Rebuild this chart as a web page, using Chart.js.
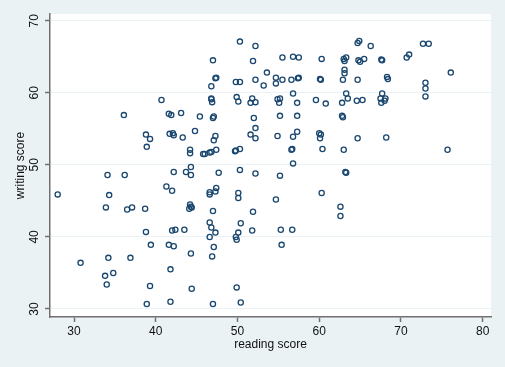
<!DOCTYPE html>
<html><head><meta charset="utf-8">
<script src="https://cdn.jsdelivr.net/npm/chart.js@4.4.0/dist/chart.umd.min.js"></script>
<style>html,body{margin:0;padding:0;background:#eaf2f3;} canvas{display:block}</style>
</head><body>
<canvas id="c" width="505" height="367"></canvas>
<script>
const readingScore = [
40.7,36.1,41.6,41.9,43.1,45.4,38.8,39.3,38.9,41.7,
42.1,42.2,43.3,44.8,44.2,44.2,45.8,44.3,43.7,44.3,
42.2,34.1,36.2,28.0,34.3,41.3,42.0,33.9,36.5,37.1,
38.7,44.2,44.3,44.1,44.4,38.8,42.0,42.4,43.5,39.4,
41.6,42.2,44.3,30.8,34.2,36.9,33.8,34.8,34.0,39.3,
44.4,41.8,38.9,41.8,47.0,51.9,62.6,46.6,46.8,47.3,
46.6,50.4,50.1,49.8,49.9,51.8,55.3,56.7,55.4,47.1,
46.9,49.9,47.0,50.4,47.0,47.1,52.0,55.2,57.3,62.8,
62.9,47.3,47.1,52.2,51.6,52.2,54.9,56.8,57.3,60.0,
60.2,60.1,64.7,46.0,46.6,46.8,47.4,49.7,49.8,50.3,
56.6,56.7,60.4,63.0,56.8,47.7,50.3,52.2,55.2,63.3,
63.2,47.4,46.6,47.3,46.6,50.1,50.1,54.7,60.3,62.6,
68.2,75.7,50.3,52.2,47.0,51.9,55.5,56.8,57.5,60.3,
63.0,63.3,63.1,64.8,64.9,64.7,53.6,47.3,47.4,46.8,
49.8,50.3,52.2,53.2,54.7,54.7,55.5,56.6,57.4,57.5,
60.2,60.1,62.9,63.1,63.1,64.7,46.8,46.9,46.8,49.9,
50.1,51.6,51.8,52.2,54.9,55.2,55.1,56.8,57.3,59.6,
60.8,62.8,63.3,63.5,64.6,66.3,72.7,73.4,65.5,65.0,
67.7,67.6,70.7,71.0,68.3,68.4,76.1,73.0,73.0,73.0,
65.3,67.7,67.5,68.1,67.6,68.0];
const writingScore = [
59.0,56.9,57.1,56.9,57.2,56.7,54.2,53.6,52.5,54.3,
54.4,54.1,53.8,54.7,52.1,51.6,51.5,49.7,49.0,48.6,
49.0,48.6,48.6,45.9,45.8,47.0,46.4,44.1,43.8,44.1,
43.9,44.5,44.2,43.9,44.1,40.7,40.9,41.0,41.0,38.9,
38.9,38.7,37.7,36.4,37.1,37.1,34.6,35.0,33.4,33.2,
32.8,35.5,30.7,31.0,43.6,43.5,42.9,42.0,41.3,40.6,
40.0,41.9,40.6,40.0,39.6,40.9,41.0,41.0,38.9,38.6,
37.3,33.0,30.7,30.9,56.5,56.7,56.5,56.8,56.8,56.8,
56.6,54.0,53.4,55.1,54.2,53.7,54.0,53.9,54.6,54.4,
54.2,53.7,53.7,51.5,51.7,51.8,52.1,51.9,52.0,52.2,
52.1,52.2,52.2,52.1,50.2,48.9,49.3,48.8,48.5,48.9,
49.0,46.8,46.2,46.3,45.9,46.1,45.4,45.2,46.1,44.2,
53.8,52.1,67.1,66.5,64.5,64.4,64.9,65.0,64.9,64.7,
64.7,64.9,64.4,64.5,67.2,66.9,62.8,62.0,62.1,60.9,
61.5,61.5,61.8,61.0,62.1,61.3,61.8,61.8,62.0,62.1,
61.8,61.9,61.8,63.2,62.7,61.8,59.1,58.7,59.2,59.4,
58.8,58.6,59.2,58.7,59.1,59.2,58.6,59.9,58.6,59.0,
58.5,58.6,59.9,59.2,58.9,66.5,66.8,66.8,64.7,64.3,
64.5,64.6,64.9,65.3,62.2,61.9,62.8,61.4,60.6,59.5,
59.0,59.9,59.2,59.2,58.6,58.9];
const xTicks = [30,40,50,60,70,80];
const yTicks = [30,40,50,60,70];
const xTitle = 'reading score';
const yTitle = 'writing score';

const points = readingScore.map((r,i)=>({x:r, y:writingScore[i]}));
const FONT = '"Liberation Sans", Arial, Helvetica, sans-serif';
const AXIS = '#707070';

const bgPlugin = {
  id:'bg',
  beforeDraw(chart){
    const {ctx, chartArea:a} = chart;
    ctx.save();
    ctx.fillStyle = '#eaf2f3';
    ctx.fillRect(0,0,chart.width,chart.height);
    ctx.fillStyle = '#ffffff';
    ctx.fillRect(a.left,a.top,a.right-a.left,a.bottom-a.top);
    ctx.restore();
  },
  afterDraw(chart){
    const {ctx} = chart;
    const ys = chart.scales.y;
    ctx.save();
    ctx.fillStyle = '#111';
    ctx.font = '12px ' + FONT;
    ctx.textAlign = 'center';
    ctx.textBaseline = 'middle';
    yTicks.forEach(v=>{
      const py = ys.getPixelForValue(v);
      ctx.save();
      ctx.translate(35, py);
      ctx.rotate(-Math.PI/2);
      ctx.fillText(String(v), 0, 0);
      ctx.restore();
    });
    ctx.restore();
  }
};

new Chart(document.getElementById('c'), {
  type:'scatter',
  data:{datasets:[{
    data:points,
    pointStyle:'circle',
    pointRadius:2.6,
    pointBorderWidth:1.3,
    pointBorderColor:'#1a476f',
    pointBackgroundColor:'rgba(0,0,0,0)',
    showLine:false
  }]},
  options:{
    responsive:false,
    animation:false,
    devicePixelRatio:1,
    layout:{padding:{left:0,right:14,top:14,bottom:0}},
    plugins:{legend:{display:false}, tooltip:{enabled:false}},
    scales:{
      x:{
        type:'linear', min:27.06, max:81.02,
        afterBuildTicks(s){ s.ticks = xTicks.map(v=>({value:v})); },
        afterFit(s){ s.height = 50; },
        grid:{drawOnChartArea:false, drawTicks:true, tickLength:5, tickColor:AXIS, tickWidth:1.5},
        border:{display:true, color:AXIS, width:1.5},
        ticks:{font:{family:FONT,size:12}, color:'#111', padding:2, maxRotation:0, autoSkip:false},
        title:{display:true, text:xTitle, font:{family:FONT,size:12}, color:'#111', padding:{top:0,bottom:15}}
      },
      y:{
        type:'linear', min:28.89, max:70.93,
        afterBuildTicks(s){ s.ticks = yTicks.map(v=>({value:v})); },
        afterFit(s){ s.width = 50; },
        grid:{color:'#eaf2f3', lineWidth:1, drawTicks:true, tickLength:5, tickColor:AXIS, tickWidth:1.5},
        border:{display:true, color:AXIS, width:1.5},
        ticks:{display:false},
        title:{display:true, text:yTitle, font:{family:FONT,size:12}, color:'#111', padding:{top:13.5,bottom:0}}
      }
    }
  },
  plugins:[bgPlugin]
});
</script>
</body></html>
